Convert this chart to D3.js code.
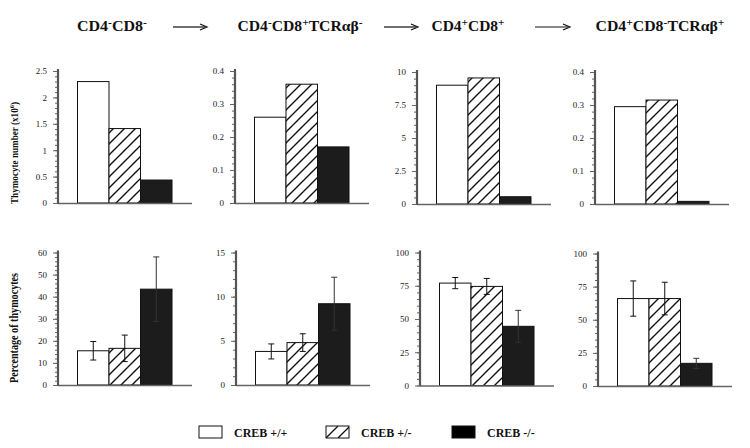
<!DOCTYPE html>
<html><head><meta charset="utf-8">
<script src="https://cdn.jsdelivr.net/npm/d3@7"></script>
<style>body{margin:0;background:#fff}svg{display:block}</style>
</head><body>
<svg id="c" width="750" height="448"></svg>
<script>
// ---- data ----
const genotypes = ["CREB +/+", "CREB +/-", "CREB -/-"];
const stageLabels = [
  [["CD4",""],["-","sup"],["CD8",""],["-","sup"]],
  [["CD4",""],["-","sup"],["CD8",""],["+","sup"],["TCRαβ",""],["-","sup"]],
  [["CD4",""],["+","sup"],["CD8",""],["+","sup"]],
  [["CD4",""],["+","sup"],["CD8",""],["-","sup"],["TCRαβ",""],["+","sup"]]
];
const countValues = [
  [2.30, 1.41, 0.435],
  [0.26, 0.36, 0.17],
  [9.0, 9.55, 0.55],
  [0.295, 0.315, 0.008]
];
const countTicks = [
  [0, 0.5, 1, 1.5, 2, 2.5],
  [0, 0.1, 0.2, 0.3, 0.4],
  [0, 2.5, 5, 7.5, 10],
  [0, 0.1, 0.2, 0.3, 0.4]
];
const pctValues = [
  [15.5, 16.6, 43.4],
  [3.8, 4.8, 9.2],
  [77, 74.5, 44.5],
  [66, 66, 17.1]
];
const pctErrors = [
  [4.2, 6.0, 14.6],
  [0.85, 1.0, 3.0],
  [4.2, 6.0, 12.0],
  [13.3, 12.3, 3.8]
];
const pctTicks = [
  [0, 10, 20, 30, 40, 50, 60],
  [0, 5, 10, 15],
  [0, 25, 50, 75, 100],
  [0, 25, 50, 75, 100]
];
const yLabelTop = "Thymocyte number (x10";
const yLabelTopSup = "6";
const yLabelBottom = "Percentage of thymocytes";

// ---- layout ----
const svg = d3.select("#c");
const serif = "'Liberation Serif','Times New Roman',serif";
const fills = ["#ffffff", "url(#hatch)", "#1c1c1c"];

const defs = svg.append("defs");
const pat = defs.append("pattern").attr("id", "hatch")
  .attr("patternUnits", "userSpaceOnUse").attr("width", 11).attr("height", 11);
pat.append("rect").attr("width", 11).attr("height", 11).attr("fill", "#fff");
pat.append("path").attr("d", "M-2,13 L13,-2 M-2,2 L2,-2 M9,13 L13,9")
  .attr("stroke", "#111").attr("stroke-width", 1.4);
const patL = defs.append("pattern").attr("id", "hatchL")
  .attr("patternUnits", "userSpaceOnUse").attr("width", 12).attr("height", 12)
  .attr("x", 326).attr("y", 426);
patL.append("rect").attr("width", 12).attr("height", 12).attr("fill", "#fff");
patL.append("path").attr("d", "M0,12 L12,0").attr("stroke", "#111").attr("stroke-width", 1.3);

const rows = [
  {axisX: [58, 235, 417, 595], y0: [203, 203, 204, 204], y1: [71, 71, 72, 72],
   values: countValues, ticks: countTicks, errors: null},
  {axisX: [58, 236, 420, 598], y0: [385, 385, 385.5, 386], y1: [252.5, 252.5, 252.5, 253.5],
   values: pctValues, ticks: pctTicks, errors: pctErrors}
];

rows.forEach(row => {
  for (let p = 0; p < 4; p++) {
    const ax = row.axisX[p];
    const ticks = row.ticks[p];
    const maxV = ticks[ticks.length - 1];
    const y = d3.scaleLinear().domain([0, maxV]).range([row.y0[p], row.y1[p]]);
    const x = d3.scaleBand().domain(genotypes).range([ax + 19.5, ax + 19.5 + 94.5]).padding(0);
    const g = svg.append("g");

    // bars
    g.selectAll("rect.bar").data(row.values[p]).join("rect")
      .attr("x", (d, i) => x(genotypes[i]))
      .attr("y", d => y(d))
      .attr("width", x.bandwidth())
      .attr("height", d => y(0) - y(d))
      .attr("fill", (d, i) => fills[i])
      .attr("stroke", "#111").attr("stroke-width", 1);

    // error bars
    if (row.errors) {
      const errs = row.errors[p];
      row.values[p].forEach((v, i) => {
        const cx = x(genotypes[i]) + x.bandwidth() / 2;
        const col = i === 2 ? "#333" : "#111";
        const e = errs[i];
        g.append("line").attr("x1", cx).attr("x2", cx)
          .attr("y1", y(v - e)).attr("y2", y(v + e))
          .attr("stroke", col).attr("stroke-width", 1);
        [v - e, v + e].forEach(t => {
          g.append("line").attr("x1", cx - 3).attr("x2", cx + 3)
            .attr("y1", y(t)).attr("y2", y(t))
            .attr("stroke", col).attr("stroke-width", 1);
        });
      });
    }

    // baseline
    g.append("line").attr("x1", ax).attr("x2", ax + 134)
      .attr("y1", y(0) + 0.5).attr("y2", y(0) + 0.5)
      .attr("stroke", "#666").attr("stroke-width", 1.5);

    // y axis with minor ticks
    const step = ticks[1] - ticks[0];
    const minor = d3.range(0, maxV + step / 10, step / 5);
    const axisMinor = d3.axisLeft(y).tickValues(minor).tickSize(2).tickFormat("");
    const gm = g.append("g").attr("transform", `translate(${ax - 1},0)`).call(axisMinor);
    gm.select(".domain").remove();
    gm.selectAll("line").attr("stroke", "#666");
    const axisMajor = d3.axisLeft(y).tickValues(ticks).tickSize(4).tickPadding(6)
      .tickFormat(d => String(+d.toFixed(2)));
    const ga = g.append("g").attr("transform", `translate(${ax - 1},0)`).call(axisMajor);
    ga.select(".domain").remove();
    ga.selectAll("line").attr("stroke", "#666");
    ga.selectAll("text").attr("font-family", serif).attr("font-size", 9).attr("fill", "#222");
    g.append("line").attr("x1", ax).attr("x2", ax)
      .attr("y1", y(maxV) - 2).attr("y2", y(0) + 1)
      .attr("stroke", "#555").attr("stroke-width", 2.2);
  }
});

// titles
const titleCenters = [112, 300, 468, 660];
const titleWidths = [70, 125, 73, 129];
stageLabels.forEach((segs, i) => {
  const t = svg.append("text").attr("x", titleCenters[i]).attr("y", 31)
    .attr("text-anchor", "middle").attr("font-family", serif)
    .attr("font-weight", "bold").attr("font-size", 15).attr("fill", "#111")
    .attr("textLength", titleWidths[i]).attr("lengthAdjust", "spacingAndGlyphs");
  let raised = false;
  segs.forEach(([s, k]) => {
    const ts = t.append("tspan").text(s);
    if (k === "sup" && !raised) { ts.attr("dy", -5).attr("font-size", 11); raised = true; }
    else if (k === "sup") { ts.attr("font-size", 11); }
    else if (raised) { ts.attr("dy", 5); raised = false; }
  });
});

// arrows
[[173, 207], [384, 418], [535, 570]].forEach(([a, b]) => {
  svg.append("line").attr("x1", a).attr("x2", b - 2).attr("y1", 27).attr("y2", 27)
    .attr("stroke", "#111").attr("stroke-width", 1.2);
  svg.append("path").attr("d", `M${b - 7},24 L${b},27 L${b - 7},30`)
    .attr("fill", "none").attr("stroke", "#111").attr("stroke-width", 1.2);
});

// y-axis labels
const yl1 = svg.append("text").attr("transform", "translate(18,153) rotate(-90)")
  .attr("text-anchor", "middle").attr("font-family", serif).attr("font-weight", "bold")
  .attr("font-size", 10).attr("fill", "#111")
  .attr("textLength", 102).attr("lengthAdjust", "spacingAndGlyphs");
yl1.append("tspan").text(yLabelTop);
yl1.append("tspan").text(yLabelTopSup).attr("dy", -4).attr("font-size", 7);
yl1.append("tspan").text(")").attr("dy", 4);
svg.append("text").attr("transform", "translate(18,328) rotate(-90)")
  .attr("text-anchor", "middle").attr("font-family", serif).attr("font-weight", "bold")
  .attr("font-size", 12).attr("fill", "#111")
  .attr("textLength", 110).attr("lengthAdjust", "spacingAndGlyphs")
  .text(yLabelBottom);

// legend
const legX = [199, 326, 452];
const legFills = ["#fff", "url(#hatchL)", "#000"];
genotypes.forEach((gname, i) => {
  svg.append("rect").attr("x", legX[i]).attr("y", 426).attr("width", 23).attr("height", 12)
    .attr("fill", legFills[i]).attr("stroke", "#111").attr("stroke-width", 1);
  svg.append("text").attr("x", legX[i] + 35).attr("y", 437)
    .attr("font-family", serif).attr("font-weight", "bold").attr("font-size", 12)
    .attr("fill", "#111").text(gname);
});
</script>
</body></html>
